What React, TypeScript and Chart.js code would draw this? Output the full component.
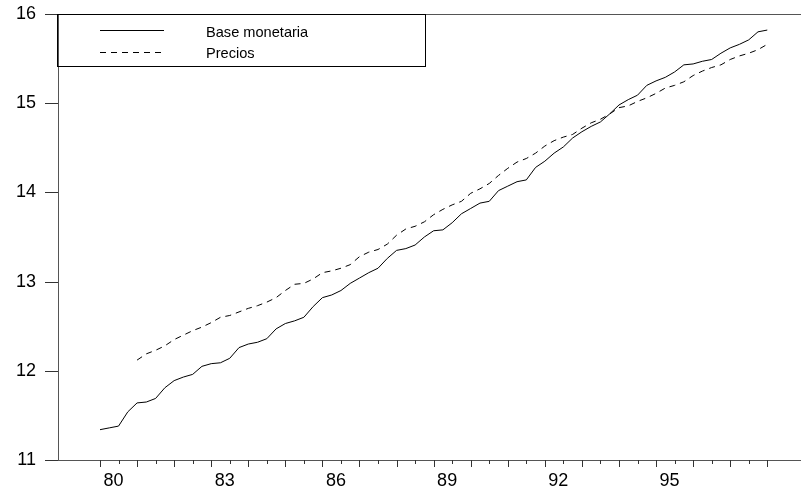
import { useEffect, useRef } from 'react';
import { Chart, registerables } from 'chart.js';

Chart.register(...registerables);

// ---- Data (quarterly, 1980Q1 .. 1998Q1) ----
const startYear = 1980;
const quartersPerYear = 4;
const seriesLabels = ['Base monetaria', 'Precios'];

const baseMonetaria = [
  11.34, 11.36, 11.38, 11.54, 11.64, 11.65, 11.69, 11.81, 11.89, 11.93,
  11.96, 12.05, 12.08, 12.09, 12.14, 12.26, 12.30, 12.32, 12.36, 12.47,
  12.53, 12.56, 12.60, 12.72, 12.82, 12.85, 12.90, 12.98, 13.04, 13.10,
  13.15, 13.26, 13.35, 13.37, 13.41, 13.50, 13.57, 13.58, 13.66, 13.76,
  13.82, 13.88, 13.90, 14.02, 14.07, 14.12, 14.14, 14.28, 14.35, 14.44,
  14.51, 14.61, 14.68, 14.74, 14.79, 14.88, 14.98, 15.04, 15.09, 15.20,
  15.25, 15.29, 15.35, 15.43, 15.44, 15.47, 15.49, 15.56, 15.62, 15.66,
  15.71, 15.80, 15.82,
];

const precios = [
  null, null, null, null, 12.12, 12.19, 12.23, 12.28, 12.35, 12.40,
  12.45, 12.49, 12.54, 12.60, 12.62, 12.66, 12.70, 12.73, 12.77, 12.82,
  12.90, 12.97, 12.98, 13.03, 13.10, 13.12, 13.15, 13.19, 13.28, 13.33,
  13.36, 13.42, 13.52, 13.59, 13.62, 13.67, 13.75, 13.81, 13.86, 13.90,
  13.99, 14.04, 14.10, 14.19, 14.27, 14.34, 14.38, 14.44, 14.52, 14.58,
  14.62, 14.65, 14.72, 14.78, 14.82, 14.88, 14.95, 14.97, 15.02, 15.06,
  15.11, 15.17, 15.20, 15.24, 15.31, 15.36, 15.40, 15.43, 15.49, 15.53,
  15.56, 15.60, 15.66,
];

const xLabelYears = [1980, 1983, 1986, 1989, 1992, 1995];
const xTickLabels = ['80', '83', '86', '89', '92', '95'];
const xTickFirstYear = 1980;
const xTickLastYear = 1998;
const yTicks = [11, 12, 13, 14, 15, 16];

// ---- Styles ----
const AXIS = '#555555';
const TICK = '#333333';
const FONT = '"Liberation Sans", Arial, sans-serif';

function toPoints(values: (number | null)[]) {
  return values.map((v, i) => ({ x: startYear + i / quartersPerYear, y: v }));
}

const frameAndLegend = {
  id: 'frameAndLegend',
  afterDraw(chart: any) {
    const { ctx, chartArea } = chart;
    const xs = chart.scales.x;
    const ys = chart.scales.y;
    const left = Math.round(chartArea.left);
    const top = Math.round(chartArea.top);
    const bottom = Math.round(chartArea.bottom);
    const right = Math.round(chartArea.right);
    ctx.save();
    ctx.fillStyle = AXIS;
    // top frame line
    ctx.fillRect(left, top, right - left, 1);

    // y tick marks
    ctx.fillStyle = TICK;
    yTicks.forEach((v) => {
      const py = Math.round(ys.getPixelForValue(v));
      ctx.fillRect(left - 13, py, 13, 1);
    });

    // x tick marks: major each year, minor each half year
    for (let y = xTickFirstYear; y <= xTickLastYear; y += 0.5) {
      const px = Math.round(xs.getPixelForValue(y));
      const len = Number.isInteger(y) ? 7 : 4;
      ctx.fillRect(px, bottom, 1, len);
    }

    // legend box
    ctx.fillStyle = '#fff';
    ctx.fillRect(left + 1, top + 1, 366, 51);
    ctx.strokeStyle = '#000';
    ctx.lineWidth = 1;
    ctx.strokeRect(left - 0.5, top + 0.5, 368, 52);

    const ds = chart.data.datasets;
    ds.forEach((d: any, k: number) => {
      const yy = top + 16 + k * 21.5;
      ctx.strokeStyle = d.borderColor;
      ctx.lineWidth = d.borderWidth;
      ctx.setLineDash(d.borderDash || []);
      ctx.beginPath();
      ctx.moveTo(left + 42, Math.round(yy) + 0.5);
      ctx.lineTo(left + 106, Math.round(yy) + 0.5);
      ctx.stroke();
      ctx.setLineDash([]);
      ctx.fillStyle = '#000';
      ctx.font = `14.6px ${FONT}`;
      ctx.textBaseline = 'alphabetic';
      ctx.textAlign = 'left';
      ctx.fillText(d.label, left + 148, yy + 6.5);
    });
    ctx.restore();
  },
};

export default function App() {
  const ref = useRef<HTMLCanvasElement | null>(null);

  useEffect(() => {
    if (!ref.current) return;
    const chart = new Chart(ref.current, {
      type: 'line',
      data: {
        datasets: [
          {
            label: seriesLabels[0],
            data: toPoints(baseMonetaria) as any,
            borderColor: '#000',
            borderWidth: 1,
            pointRadius: 0,
            tension: 0,
            fill: false,
          },
          {
            label: seriesLabels[1],
            data: toPoints(precios) as any,
            borderColor: '#000',
            borderWidth: 1,
            borderDash: [6, 5],
            pointRadius: 0,
            tension: 0,
            fill: false,
            spanGaps: false,
          },
        ],
      },
      options: {
        animation: false,
        responsive: false,
        maintainAspectRatio: false,
        layout: { padding: { top: 14, left: 0, right: 0, bottom: 0 } },
        plugins: {
          legend: { display: false },
          tooltip: { enabled: false },
        },
        scales: {
          x: {
            type: 'linear',
            min: 1978.867,
            max: 1998.91,
            afterBuildTicks: (scale: any) => {
              scale.ticks = xLabelYears.map((v) => ({ value: v }));
            },
            afterFit: (scale: any) => {
              scale.height = 35;
              scale.paddingLeft = 0;
              scale.paddingRight = 0;
              scale.paddingTop = 0;
              scale.paddingBottom = 0;
            },
            grid: { display: false, drawTicks: false },
            border: { display: true, color: AXIS, width: 1 },
            ticks: {
              autoSkip: false,
              maxRotation: 0,
              padding: 10,
              labelOffset: 13.5,
              color: '#000',
              font: { family: FONT, size: 18 },
              callback: (v: any) => {
                const idx = xLabelYears.indexOf(Number(v));
                return idx >= 0 ? xTickLabels[idx] : '';
              },
            },
          },
          y: {
            type: 'linear',
            min: yTicks[0],
            max: yTicks[yTicks.length - 1],
            afterBuildTicks: (scale: any) => {
              scale.ticks = yTicks.map((v) => ({ value: v }));
            },
            afterFit: (scale: any) => {
              scale.width = 58;
              scale.paddingLeft = 0;
              scale.paddingRight = 0;
              scale.paddingTop = 0;
              scale.paddingBottom = 0;
            },
            grid: {
              display: false,
              drawOnChartArea: false,
              drawTicks: true,
              tickLength: 13,
            },
            border: { display: true, color: AXIS, width: 1 },
            ticks: {
              padding: 9,
              color: '#000',
              font: { family: FONT, size: 18 },
              callback: (v: any) => String(v),
            },
          },
        },
      },
      plugins: [frameAndLegend],
    });
    return () => chart.destroy();
  }, []);

  return (
    <div style={{ position: 'absolute', left: 0, top: 0, width: 801, height: 495, background: '#fff' }}>
      <canvas ref={ref} width={801} height={495} style={{ width: 801, height: 495, display: 'block' }} />
    </div>
  );
}
